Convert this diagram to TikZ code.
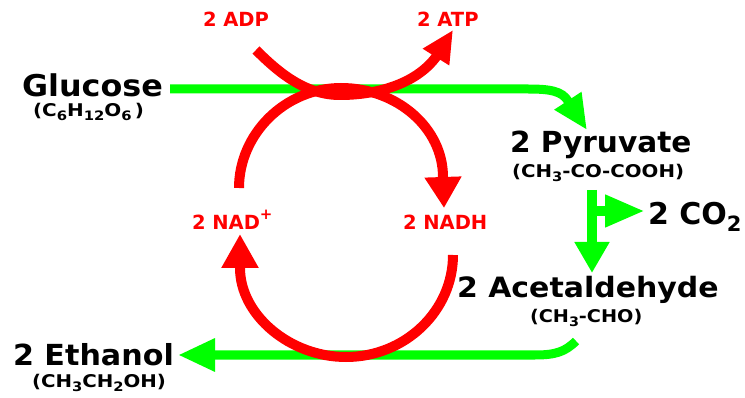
\documentclass[tikz,border=0pt]{standalone}
\usepackage{fontspec}
\usepackage{graphicx}
\setmainfont{DejaVu Sans}
\usetikzlibrary{arrows.meta}
\definecolor{rred}{HTML}{FF0000}
\definecolor{ggreen}{HTML}{00FF00}
\newcommand\fsz[1]{\fontsize{#1}{#1}\selectfont\bfseries}
\newcommand\lo[1]{\raisebox{-4pt}{\fontsize{13}{13}\selectfont #1}}
\tikzset{
  lbl/.style={anchor=base west, inner sep=0pt, outer sep=0pt, text=black},
  rlbl/.style={anchor=base west, inner sep=0pt, outer sep=0pt, text=rred, font=\fsz{19.5}},
  sub/.style={anchor=base west, inner sep=0pt, outer sep=0pt, text=black, font=\fsz{17.5}},
  redline/.style={draw=rred, line width=10pt},
  greenline/.style={draw=ggreen, line width=9pt},
}
\begin{document}
\begin{tikzpicture}[x=1pt,y=-1pt]
\useasboundingbox (0,0) rectangle (745,398);
\fill[white] (0,0) rectangle (745,398);

% labels
\node[rlbl] (adp) at (203,27) {2 ADP};
\node[rlbl] (atp) at (417,27) {2 ATP};
\node[rlbl] (nad) at (192,230) {2 NAD\raisebox{10pt}{\fontsize{15}{15}\selectfont +}};
\node[rlbl] (nadh) at (403,230) {2 NADH};

\node[lbl, font=\fsz{30}] (glu) at (22,97) {\scalebox{1.06}[1]{Glucose}};
\node[sub] (glus) at (33,117) {\scalebox{1.14}[1]{(C\lo{6}H\lo{12}O\lo{6}\,)}};
\node[lbl, font=\fsz{29}] (pyr) at (510,153) {\scalebox{1.02}[1]{2 Pyruvate}};
\node[sub] (pyrs) at (512,178) {\scalebox{1.13}[1]{(CH\lo{3}-CO-COOH)}};
\node[lbl, font=\fsz{30}] (co2) at (648,225) {2 CO\raisebox{-7pt}{\fontsize{21}{21}\selectfont 2}};
\node[lbl, font=\fsz{28}] (ace) at (457,298) {\scalebox{1.07}[1]{2 Acetaldehyde}};
\node[sub] (aces) at (530,323) {\scalebox{1.1}[1]{(CH\lo{3}-CHO)}};
\node[lbl, font=\fsz{29}] (eth) at (13,365) {\scalebox{1.04}[1]{2 Ethanol}};
\node[sub] (eths) at (32,387) {\scalebox{1.13}[1]{(CH\lo{3}CH\lo{2}OH)}};

% key points
\coordinate (gs) at (170,89);
\coordinate (gtip) at (587,130);
\coordinate (vtop) at (592,190);
\coordinate (vtip) at (592,273);
\coordinate (cstart) at (592,211);
\coordinate (ctip) at (645,211);
\coordinate (bstart) at (576,341);
\coordinate (btip) at (178,355);
\coordinate (adps) at (256,50);
\coordinate (atptip) at (453,30);
\coordinate (loopl) at (239,188);
\coordinate (nadhtip) at (444,208);
\coordinate (lows) at (453,255);
\coordinate (nadtip) at (240,234);

% green arrows
\draw[greenline, -{Triangle[length=35pt,width=30pt]}]
  (gs) -- (528,89) .. controls (550,89) and (562,91) .. (568,101) -- (gtip);
\draw[greenline, line width=10pt, -{Triangle[length=31pt,width=33pt]}] (vtop) -- (vtip);
\draw[greenline, line width=10pt, -{Triangle[length=40pt,width=30pt]}] (cstart) -- (ctip);
\draw[greenline, -{Triangle[length=37pt,width=31pt]}]
  (bstart) .. controls (565,352) and (555,355) .. (535,355) -- (btip);

% red arrows
\draw[redline, -{Triangle[length=32pt,width=29pt]}]
  (adps) .. controls (278,72) and (305,95) .. (340,95) .. controls (375,95) and (415,85) .. (436,57) -- (atptip);
\draw[redline, -{Triangle[length=31pt,width=35pt]}]
  (loopl) .. controls (239,134) and (285,88) .. (341,88) .. controls (397,88) and (443,128) .. (443,177) -- (nadhtip);
\draw[redline, -{Triangle[length=34pt,width=35pt]}]
  (lows) .. controls (453,311) and (405,357) .. (346,357) .. controls (290,357) and (240,315) .. (240,268) -- (nadtip);
\end{tikzpicture}
\end{document}
